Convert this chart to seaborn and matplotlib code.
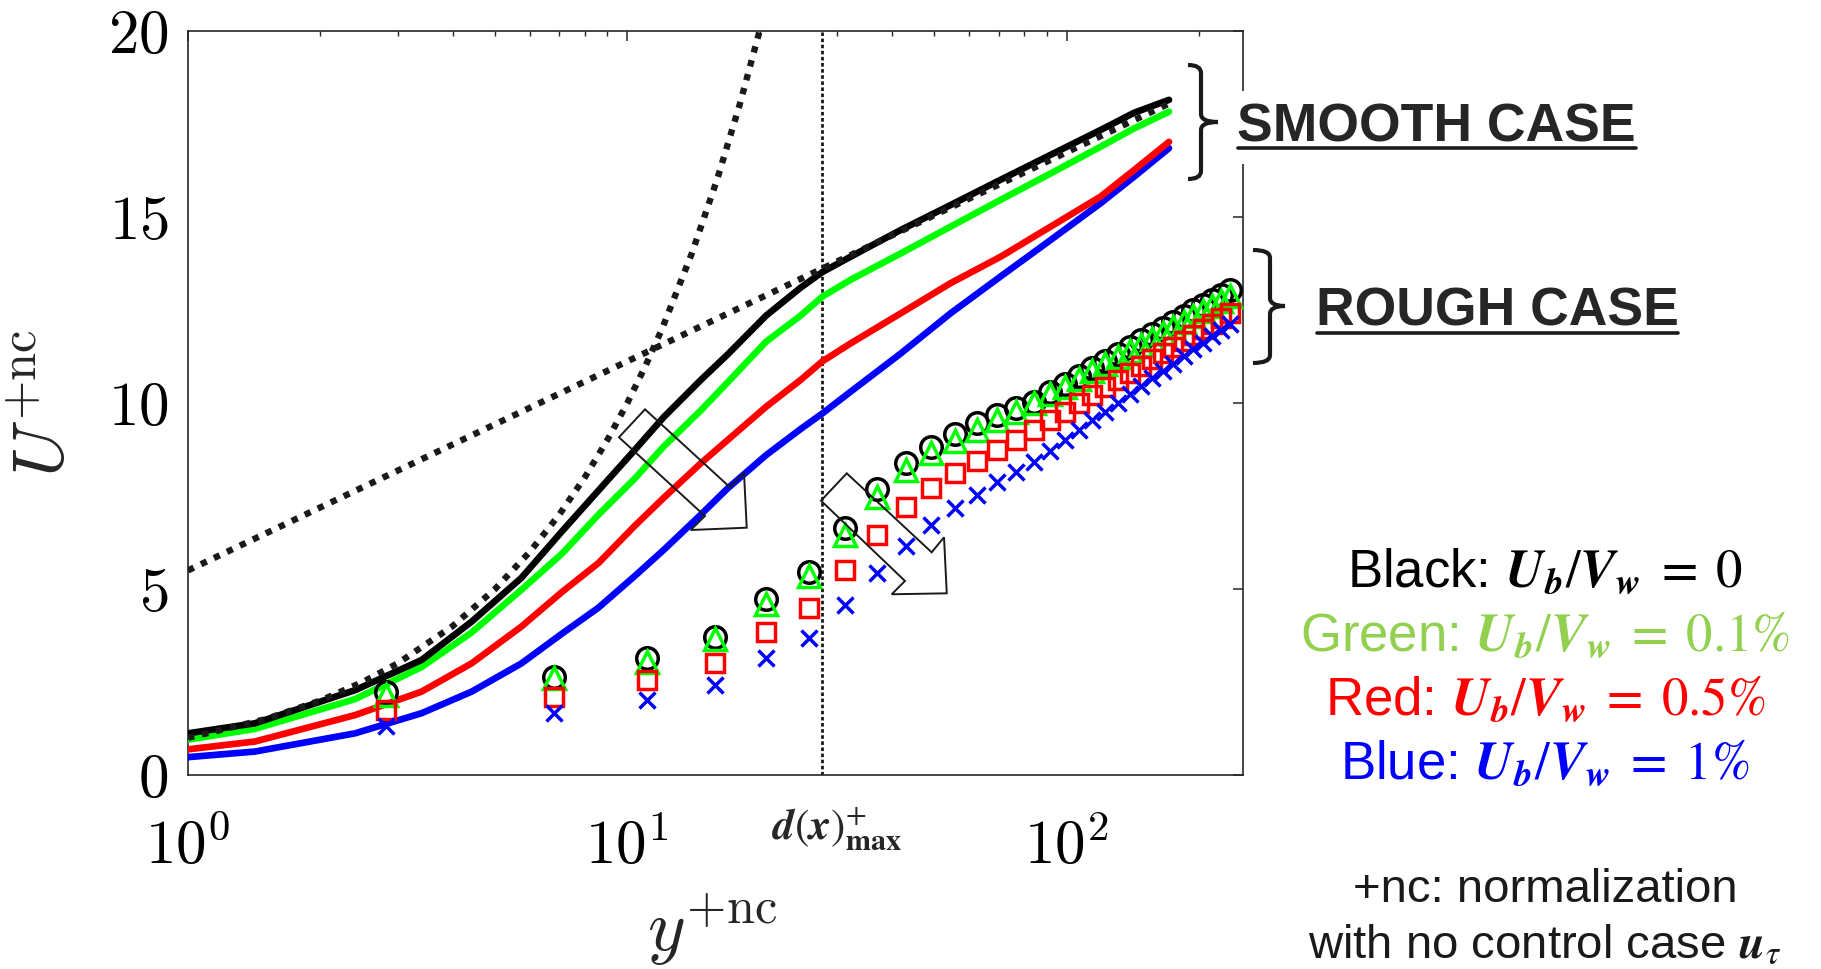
import numpy as np
import pandas as pd
import matplotlib
matplotlib.use("Agg")
import matplotlib.pyplot as plt
import seaborn as sns
from matplotlib.path import Path
from matplotlib.patches import PathPatch, Polygon
from matplotlib.lines import Line2D
from matplotlib.ticker import FixedLocator, FuncFormatter, LogLocator, NullFormatter

# ---------------- data ----------------
# smooth case, solid lines
y_smooth = [1, 1.42, 2.4, 3.4, 4.42, 5.74, 7.1, 8.6, 10.4, 12.1, 14.7, 16.9, 20.7,
            24.8, 27.8, 32.2, 41.9, 54.4, 70.7, 91.9, 119.5, 142.3, 171]
U_smooth_black = [1.12, 1.39, 2.28, 3.09, 4.12, 5.3, 6.55, 7.65, 8.74, 9.62, 10.62,
                  11.3, 12.35, 13.1, 13.52, 13.93, 14.65, 15.32, 16.0, 16.67, 17.34,
                  17.8, 18.15]
U_smooth_green = [0.95, 1.24, 2.04, 2.9, 3.83, 4.98, 5.95, 7.0, 7.97, 8.83, 9.8,
                  10.55, 11.65, 12.35, 12.86, 13.31, 14.02, 14.74, 15.46, 16.17, 16.89,
                  17.38, 17.83]
U_smooth_red = [0.69, 0.9, 1.61, 2.24, 3.0, 3.99, 4.92, 5.7, 6.7, 7.45, 8.38, 9.0,
                9.9, 10.62, 11.12, 11.6, 12.41, 13.22, 13.93, 14.74, 15.55, 16.26, 17.02]
U_smooth_blue = [0.48, 0.63, 1.12, 1.66, 2.24, 3.0, 3.8, 4.5, 5.35, 6.05, 7.0, 7.7,
                 8.6, 9.3, 9.72, 10.3, 11.33, 12.41, 13.4, 14.38, 15.37, 16.08, 16.85]

# rough case, markers
y_rough = [2.83, 6.8, 11.1, 15.8, 20.7, 25.9, 31.3, 37.1, 43.1, 49.2, 55.7, 62.5,
           69.3, 76.8, 84.1, 91.5, 98.9, 106.5, 114.3, 122.4, 130.7, 139.2, 147.8,
           156.6, 165.6, 174.9, 184.5, 194.2, 204.1, 214.2, 224.5, 235.1]
U_rough_black = [2.22, 2.64, 3.14, 3.72, 4.72, 5.46, 6.65, 7.68, 8.38, 8.83, 9.18,
                 9.45, 9.67, 9.86, 10.04, 10.29, 10.51, 10.73, 10.94, 11.14, 11.33,
                 11.51, 11.69, 11.86, 12.02, 12.18, 12.34, 12.49, 12.63, 12.78,
                 12.91, 13.05]
U_rough_green = [2.15, 2.6, 3.05, 3.65, 4.61, 5.35, 6.45, 7.46, 8.2, 8.65, 8.99,
                 9.27, 9.54, 9.77, 9.99, 10.23, 10.44, 10.65, 10.85, 11.04, 11.23,
                 11.40, 11.57, 11.73, 11.89, 12.04, 12.19, 12.33, 12.47, 12.61,
                 12.74, 12.87]
U_rough_red = [1.75, 2.1, 2.55, 3.02, 3.85, 4.5, 5.51, 6.45, 7.2, 7.71, 8.13, 8.44,
               8.74, 9.0, 9.27, 9.53, 9.77, 9.99, 10.21, 10.42, 10.62, 10.81, 11.0,
               11.17, 11.34, 11.51, 11.68, 11.83, 11.98, 12.13, 12.28, 12.42]
U_rough_blue = [1.32, 1.66, 2.02, 2.42, 3.14, 3.68, 4.57, 5.44, 6.16, 6.72, 7.17,
                7.53, 7.87, 8.15, 8.42, 8.72, 9.0, 9.27, 9.53, 9.77, 10.01, 10.24,
                10.45, 10.66, 10.86, 11.06, 11.25, 11.44, 11.62, 11.79, 11.96, 12.13]

# reference laws (dotted)
y_visc = [1, 1.5, 2, 2.5, 3, 4, 5, 6, 7, 8, 9, 10, 11, 12, 14, 16, 18, 20]
U_visc = [1, 1.5, 2, 2.5, 3, 4, 5, 6, 7, 8, 9, 10, 11, 12, 14, 16, 18, 20]
y_loglaw = [1, 171]
U_loglaw = [5.5, 18.05]
d_max = 27.8

cases = ["Black", "Green", "Red", "Blue"]
x_ticks = [1, 10, 100]
y_ticks = [0, 5, 10, 15, 20]

ubvw = r"\mathbfit{U}_{\mathbfit{b}}/\mathbfit{V}_{\mathbfit{w}}\;=\;"
legend_lines = [
    ("Black", "$" + ubvw + r"0$"),
    ("Green", "$" + ubvw + r"0.1\%$"),
    ("Red", "$" + ubvw + r"0.5\%$"),
    ("Blue", "$" + ubvw + r"1\%$"),
]

# ---------------- style ----------------
sns.set_theme(style="white")
plt.rcParams["font.family"] = ["Liberation Sans", "DejaVu Sans"]
plt.rcParams["mathtext.fontset"] = "cm"
plt.rcParams["axes.unicode_minus"] = False

line_pal = {"Black": "#000000", "Green": "#00ff00", "Red": "#ff0000", "Blue": "#0000ff"}
text_pal = {"Black": "#000000", "Green": "#92d050", "Red": "#ff0000", "Blue": "#0000ff"}
axis_col = "#262626"

W, H = 1821, 969
fig = plt.figure(figsize=(W / 100, H / 100), dpi=100)
ax = fig.add_axes([188 / W, 1 - 775 / H, 1055 / W, 744 / H])
ax.set_xscale("log")

# smooth-case solid lines
smooth_df = pd.concat([
    pd.DataFrame({"y": y_smooth, "U": u, "case": c})
    for c, u in zip(cases, [U_smooth_black, U_smooth_green, U_smooth_red, U_smooth_blue])
], ignore_index=True)
sns.lineplot(data=smooth_df, x="y", y="U", hue="case", hue_order=cases[::-1],
             palette=line_pal, linewidth=4.8, estimator=None, sort=False,
             legend=False, ax=ax, zorder=3)

# dotted reference laws
dot_style = (0, (1.0, 1.25))
sns.lineplot(x=y_visc, y=U_visc, color="k", linewidth=4.6, linestyle=dot_style,
             dash_capstyle="butt", estimator=None, sort=False, ax=ax, zorder=4)
sns.lineplot(x=y_loglaw, y=U_loglaw, color="k", linewidth=4.6, linestyle=dot_style,
             dash_capstyle="butt", estimator=None, sort=False, ax=ax, zorder=4)

# d(x)+max vertical line
ax.axvline(d_max, color="k", linewidth=2.0, linestyle=(0, (1.3, 0.9)), zorder=2)

# rough-case markers
mk = [("Black", U_rough_black, "o", 15.5, "#000000"),
      ("Green", U_rough_green, "^", 16.5, "#00ff00"),
      ("Red", U_rough_red, "s", 12.5, "#ff0000"),
      ("Blue", U_rough_blue, "x", 12, "#0000ff")]
for name, u, m, ms, col in mk:
    sns.lineplot(x=y_rough, y=u, marker=m, markersize=ms, markerfacecolor="none",
                 markeredgecolor=col, markeredgewidth=2.5, color=col, linestyle="none",
                 estimator=None, sort=False, ax=ax, zorder=5)

# axes cosmetics
ax.set_xlim(1, 252)
ax.set_ylim(0, 20)
ax.xaxis.set_major_locator(FixedLocator(x_ticks))
ax.xaxis.set_minor_locator(LogLocator(base=10, subs=np.arange(2, 10)))
ax.xaxis.set_minor_formatter(NullFormatter())
ax.xaxis.set_major_formatter(FuncFormatter(lambda v, p: r"$10^{%d}$" % int(round(np.log10(v)))))
ax.yaxis.set_major_locator(FixedLocator(y_ticks))
ax.yaxis.set_major_formatter(FuncFormatter(lambda v, p: r"$%d$" % int(v)))
ax.tick_params(which="both", direction="in", top=True, right=True, color=axis_col)
ax.tick_params(which="major", length=7.5, width=1.1, labelsize=44, labelcolor="black")
ax.tick_params(which="minor", length=3.8, width=1.0)
ax.tick_params(axis="y", pad=14)
ax.tick_params(axis="x", pad=32)
for s in ax.spines.values():
    s.set_color(axis_col)
    s.set_linewidth(1.2)

ax.set_xlabel(r"$y^{+\mathrm{nc}}$", fontsize=52, va="center")
ax.xaxis.set_label_coords((712 - 188) / 1055, (775 - 930) / 744)
ax.set_ylabel(r"$U^{+\mathrm{nc}}$", fontsize=52, va="center", rotation_mode="anchor")
ax.yaxis.set_label_coords((45 - 188) / 1055, 0.5)

ax.text((837 - 188) / 1055, (775 - 829) / 744,
        r"$\mathbfit{d}(\mathbfit{x})^{+}_{\mathbf{max}}$", transform=ax.transAxes,
        ha="center", va="center", fontsize=31, math_fontfamily="stix")

# hollow block arrows (axes fraction coordinates)
arrow1 = [(0.4332, 0.4915), (0.4085, 0.4539), (0.4900, 0.3481), (0.4765, 0.3293),
          (0.5296, 0.3324), (0.5270, 0.4063), (0.5137, 0.3867)]
arrow2 = [(0.6244, 0.4055), (0.6000, 0.3687), (0.6796, 0.2608), (0.6670, 0.2429),
          (0.7192, 0.2442), (0.7166, 0.3195), (0.7049, 0.2993)]
for pts in (arrow1, arrow2):
    ax.add_patch(Polygon(pts, closed=True, fill=False, edgecolor="k", linewidth=1.4,
                         transform=ax.transAxes, zorder=6, joinstyle="miter"))


# ---------------- figure annotations ----------------
def fx(px):
    return px / W


def fy(py):
    return 1 - py / H


def brace(x_hook, x_v, x_tip, y_top, y_mid, y_bot, r=8):
    verts = [(x_hook, y_top), (x_v, y_top), (x_v, y_top + r),
             (x_v, y_mid - r), (x_v, y_mid), (x_tip, y_mid),
             (x_v, y_mid), (x_v, y_mid + r),
             (x_v, y_bot - r), (x_v, y_bot), (x_hook, y_bot)]
    codes = [Path.MOVETO, Path.CURVE3, Path.CURVE3,
             Path.LINETO, Path.CURVE3, Path.CURVE3,
             Path.CURVE3, Path.CURVE3,
             Path.LINETO, Path.CURVE3, Path.CURVE3]
    verts = [(fx(a), fy(b)) for a, b in verts]
    fig.add_artist(PathPatch(Path(verts, codes), fill=False, lw=3.0, edgecolor="k",
                             transform=fig.transFigure, zorder=5, capstyle="butt"))


brace(1188, 1201, 1218, 65, 122, 179)
brace(1253, 1270, 1285, 250, 306, 363)

fig.text(fx(1237), fy(141.7), "SMOOTH CASE", fontsize=38.5, fontweight="bold",
         ha="left", va="baseline", zorder=3,
         bbox=dict(boxstyle="square,pad=0.22", fc="white", ec="none"))
fig.add_artist(Line2D([fx(1238), fx(1636)], [fy(147.5), fy(147.5)], color="k",
                      lw=2.6, transform=fig.transFigure, zorder=6))
fig.text(fx(1316), fy(325), "ROUGH CASE", fontsize=38.5, fontweight="bold",
         ha="left", va="baseline", zorder=3)
fig.add_artist(Line2D([fx(1317), fx(1678)], [fy(332.5), fy(332.5)], color="k",
                      lw=2.6, transform=fig.transFigure, zorder=6))

baselines = [587.3, 650.7, 715, 778.3]
for (name, expr), b in zip(legend_lines, baselines):
    fig.text(fx(1545), fy(b), f"{name}: {expr}", fontsize=38, color=text_pal[name],
             ha="center", va="baseline", math_fontfamily="stix")

fig.text(fx(1545), fy(901.7), "+nc: normalization", fontsize=34, color="k",
         ha="center", va="baseline")
fig.text(fx(1545), fy(958), r"with no control case $\mathbfit{u}_{\tau}$", fontsize=34,
         color="k", ha="center", va="baseline", math_fontfamily="stix")

fig.savefig("out.png", dpi=100)
